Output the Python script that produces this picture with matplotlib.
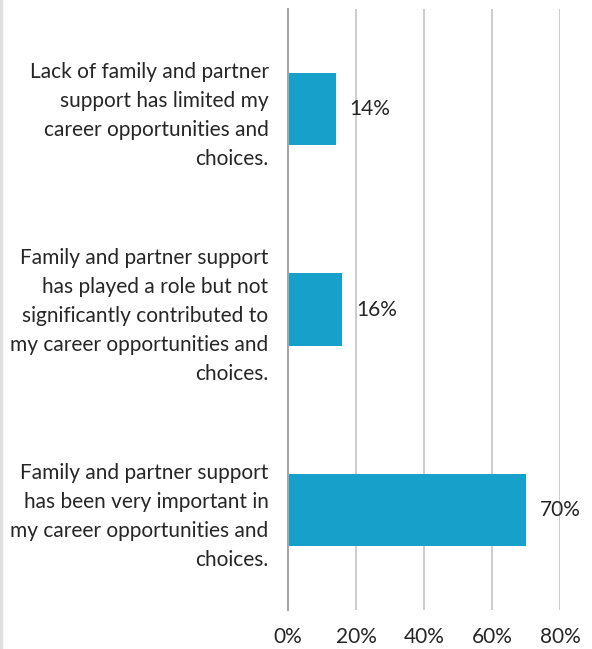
import matplotlib
matplotlib.use("Agg")
import matplotlib.pyplot as plt
from matplotlib.lines import Line2D

categories = [
    "Lack of family and partner\nsupport has limited my\ncareer opportunities and\nchoices.",
    "Family and partner support\nhas played a role but not\nsignificantly contributed to\nmy career opportunities and\nchoices.",
    "Family and partner support\nhas been very important in\nmy career opportunities and\nchoices.",
]
values = [14, 16, 70]
x_ticks = [0, 20, 40, 60, 80]
x_tick_labels = ["0%", "20%", "40%", "60%", "80%"]

plt.rcParams["font.family"] = ["Lato", "DejaVu Sans"]
text_color = "#262626"
bar_color = "#17A1CA"

fig = plt.figure(figsize=(5.92, 6.49), dpi=100)
ax = fig.add_axes([0.4865, 0.0601, 0.4594, 0.926])

y = list(range(len(categories)))
ax.barh(y, values, height=0.36, color=bar_color, zorder=3)
for yi, v in zip(y, values):
    ax.annotate(f"{v}%", (v, yi), xytext=(10, 0), textcoords="offset points",
                va="center", ha="left", fontsize=15, color=text_color, zorder=4)

ax.set_xlim(0, 80)
ax.set_ylim(2.5, -0.5)
ax.set_xticks(x_ticks)
ax.set_xticklabels(x_tick_labels)
ax.set_yticks(y)
ax.set_yticklabels(categories, ha="right", linespacing=1.56)
ax.tick_params(axis="both", length=0, labelsize=15, colors=text_color)
ax.tick_params(axis="x", pad=12)
ax.tick_params(axis="y", pad=14)

ax.grid(axis="x", color="#c8c8c8", linewidth=1.3, zorder=0)
ax.grid(axis="y", visible=False)
for side in ["top", "right", "bottom"]:
    ax.spines[side].set_visible(False)
ax.spines["left"].set_color("#a6a6a6")
ax.spines["left"].set_linewidth(1.5)
ax.spines["left"].set_zorder(5)

fig.add_artist(Line2D([0.002, 0.002], [0, 1], color="#e0e0e0", linewidth=2.5,
                      transform=fig.transFigure))

fig.savefig("out.png", dpi=100, facecolor="white")
